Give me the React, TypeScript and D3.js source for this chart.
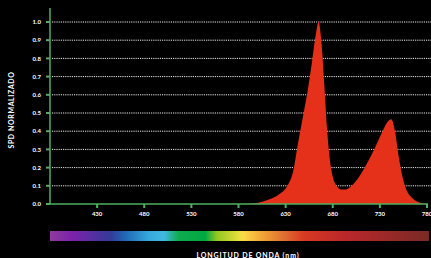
import * as d3 from "d3";

type Pt = { nm: number; v: number };

const wavelengths = [
  380, 580, 595, 605, 615, 625, 632, 638, 643, 648, 653, 658, 662, 665, 668,
  671, 674, 677, 680, 684, 689, 694, 700, 708, 716, 724, 732, 738, 742, 746,
  750, 754, 758, 763, 769, 775, 780,
];
const spd = [
  0, 0, 0.003, 0.013, 0.03, 0.06, 0.1, 0.18, 0.33, 0.47, 0.61, 0.78, 0.93, 1.0,
  0.89, 0.66, 0.41, 0.24, 0.15, 0.1, 0.08, 0.08, 0.1, 0.15, 0.22, 0.3, 0.39,
  0.45, 0.465, 0.4, 0.26, 0.15, 0.08, 0.04, 0.015, 0.003, 0,
];
const xTicks = [430, 480, 530, 580, 630, 680, 730, 780];
const yTicks = [0, 0.1, 0.2, 0.3, 0.4, 0.5, 0.6, 0.7, 0.8, 0.9, 1.0];

// spectrum bar colours (offset, colour)
const bandOffsets = [0, 0.06, 0.16, 0.2, 0.26, 0.3, 0.34, 0.41, 0.44, 0.5, 0.51, 0.56, 0.61, 0.67, 0.78, 1];
const bandColors = [
  "#8d3b9c", "#7b22aa", "#343a98", "#1f6ab8", "#35a8dc", "#40b8e0", "#0fab4e",
  "#00a941", "#90c820", "#eadf3e", "#fcd84a", "#f0a535", "#e07532", "#d83a22",
  "#b9272b", "#7a2a25",
];

const W = 431;
const H = 258;
const green = "#4fb060";
const font = "Lato, 'DejaVu Sans', sans-serif";

const App = () => {
  const data: Pt[] = wavelengths.map((nm, i) => ({ nm, v: spd[i] }));

  const x = d3.scaleLinear().domain([380, 780]).range([50, 427]);
  const y = d3.scaleLinear().domain([0, 1]).range([204, 22]);

  const area = d3
    .area<Pt>()
    .x((d) => x(d.nm))
    .y0(y(0))
    .y1((d) => y(d.v))
    .curve(d3.curveMonotoneX);

  return (
    <svg
      width={W}
      height={H}
      style={{ position: "absolute", left: 0, top: 0, display: "block" }}
    >
      <defs>
        <linearGradient id="spectrum" x1="0" x2="1" y1="0" y2="0">
          {bandOffsets.map((o, i) => (
            <stop key={i} offset={o} stopColor={bandColors[i]} />
          ))}
        </linearGradient>
      </defs>
      <rect width={W} height={H} fill="#000" />

      {/* grid */}
      {yTicks.slice(1).map((t) => (
        <line
          key={t}
          x1={52}
          x2={W}
          y1={y(t)}
          y2={y(t)}
          stroke="#e8e8e8"
          strokeWidth={1}
          strokeDasharray="1.2,1"
        />
      ))}

      <path d={area(data) ?? ""} fill="#e5301a" />

      {/* y axis */}
      <line x1={50} x2={50} y1={8} y2={204} stroke={green} strokeWidth={1.5} />
      {yTicks.map((t) => (
        <g key={t}>
          <line x1={46} x2={50} y1={y(t)} y2={y(t)} stroke={green} strokeWidth={2} />
          <text
            x={41}
            y={y(t)}
            dy="0.35em"
            textAnchor="end"
            fill="#fff"
            fontSize={6}
            fontWeight={700}
            fontFamily={font}
          >
            {t.toFixed(1)}
          </text>
        </g>
      ))}

      {/* x axis */}
      <line x1={50} x2={428} y1={204} y2={204} stroke={green} strokeWidth={1.5} />
      {xTicks.map((t) => (
        <g key={t}>
          <line x1={x(t)} x2={x(t)} y1={204} y2={208} stroke={green} strokeWidth={2} />
          <text
            x={x(t)}
            y={216}
            textAnchor="middle"
            fill="#fff"
            fontSize={6}
            fontWeight={700}
            fontFamily={font}
          >
            {t}
          </text>
        </g>
      ))}

      <rect x={50} y={231} width={379} height={10} fill="url(#spectrum)" />

      <text
        transform={`translate(14,110) rotate(-90)`}
        textAnchor="middle"
        fill="#fff"
        fontSize={7}
        fontWeight={700}
        letterSpacing={0.6}
        fontFamily={font}
      >
        SPD NORMALIZADO
      </text>
      <text
        x={248}
        y={257.5}
        textAnchor="middle"
        fill="#fff"
        fontSize={7}
        fontWeight={700}
        letterSpacing={0.85}
        fontFamily={font}
      >
        LONGITUD DE ONDA (nm)
      </text>
    </svg>
  );
};

export default App;
